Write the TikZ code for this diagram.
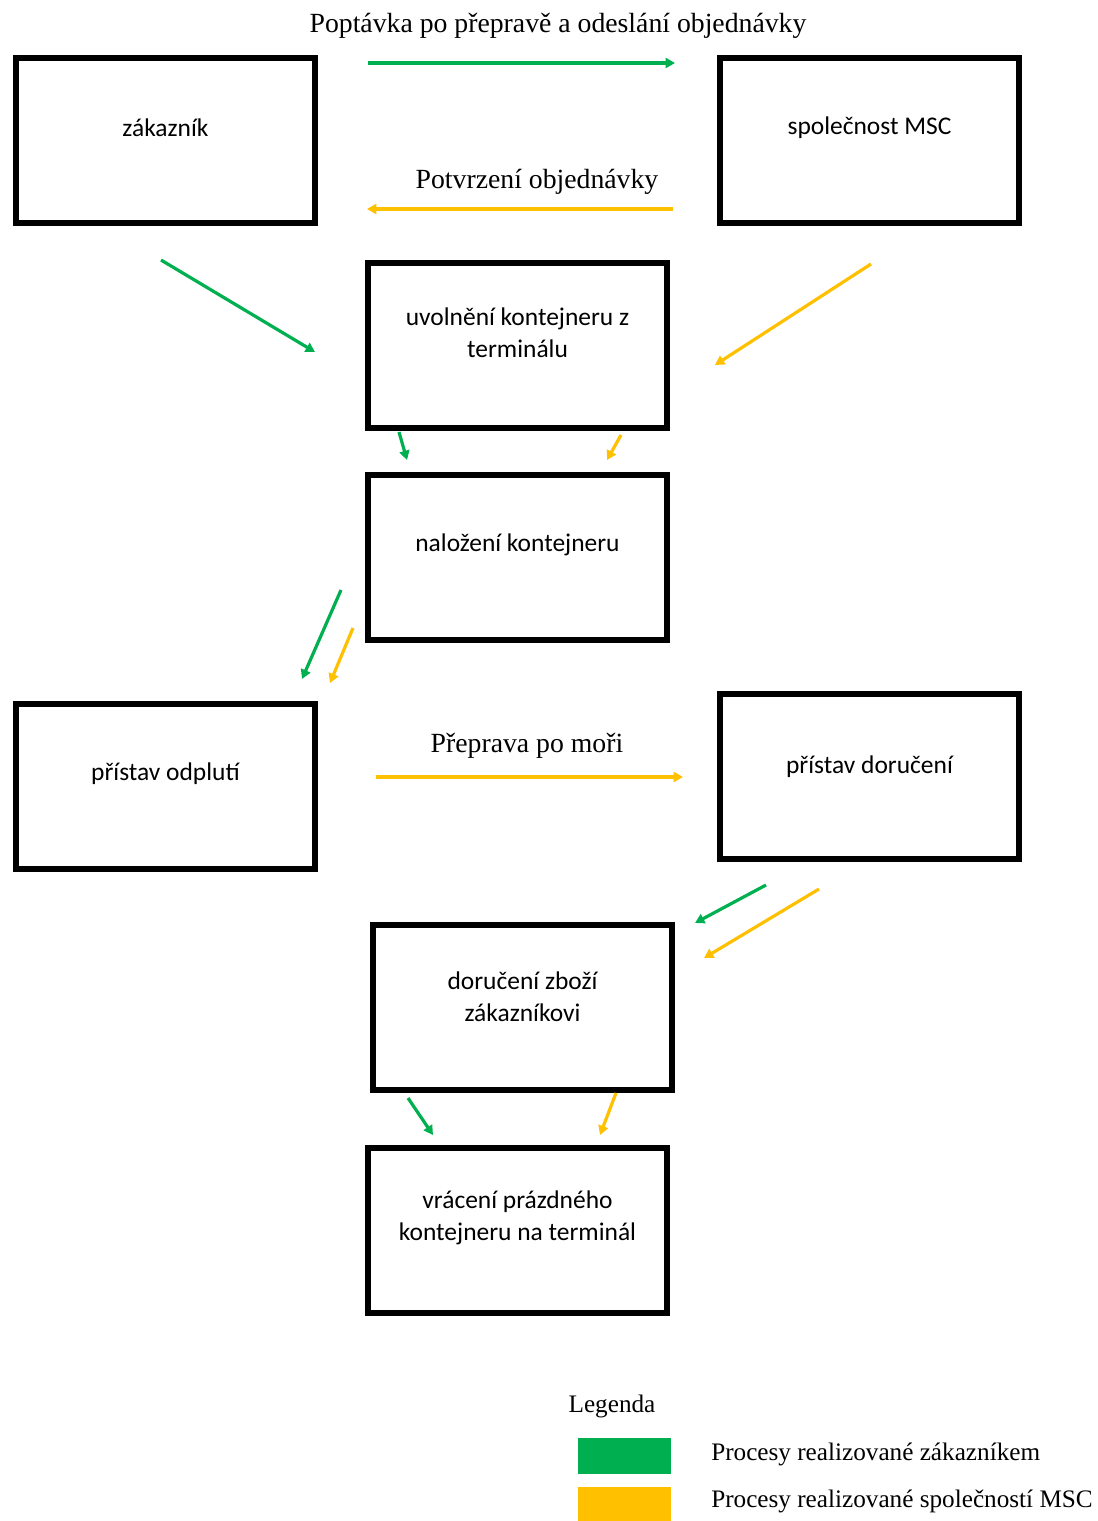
\documentclass[tikz,border=0pt]{standalone}
\usepackage{fontspec}
\setmainfont{Liberation Serif}
\newfontfamily\boxfont{Carlito}
\usetikzlibrary{arrows.meta}
\definecolor{grn}{HTML}{00B050}
\definecolor{ylw}{HTML}{FFC000}
\begin{document}
\begin{tikzpicture}[x=0.75pt,y=-0.75pt,
  box/.style={draw,line width=4.5pt,minimum width=224.25pt,minimum height=123.75pt,inner sep=0pt},
  boxtext/.style={font=\boxfont\fontsize{19.1pt}{24pt}\selectfont,align=center,inner sep=0pt},
  lbl/.style={font=\fontsize{20.8pt}{24pt}\selectfont,anchor=base,inner sep=0pt},
  leglbl/.style={font=\fontsize{18.9pt}{22pt}\selectfont,anchor=base,inner sep=0pt},
  arr/.style={line width=2.4pt,-{Triangle[length=7pt,width=7.5pt]}},
  garr/.style={arr,draw=grn},
  yarr/.style={arr,draw=ylw},
  legbox/.style={minimum width=69.75pt,minimum height=27pt,inner sep=0pt}]
\useasboundingbox (0,0) rectangle (1097,1521);
\fill[white] (0,0) rectangle (1097,1521);

% boxes
\node[box] (zak)   at (165.5,140.5) {};
\node[box] (msc)   at (869.5,140.5) {};
\node[box] (uvol)  at (517.5,345)   {};
\node[box] (nalo)  at (517.5,557)   {};
\node[box] (odpl)  at (165.5,786)   {};
\node[box] (doru)  at (869.5,776.5) {};
\node[box] (zbozi) at (522.5,1007)  {};
\node[box] (vrac)  at (517.5,1230)  {};

% box texts
\node[boxtext] (zak-t)   at ([yshift=9.4pt]zak.center)   {zákazník};
\node[boxtext] (msc-t)   at ([yshift=9.4pt]msc.center)   {společnost MSC};
\node[boxtext] (uvol-t)  at ([yshift=9.4pt]uvol.center)  {uvolnění kontejneru z\\terminálu};
\node[boxtext] (nalo-t)  at ([yshift=9.4pt]nalo.center)  {naložení kontejneru};
\node[boxtext] (odpl-t)  at ([yshift=9.4pt]odpl.center)  {přístav odplutí};
\node[boxtext] (doru-t)  at ([yshift=7pt]doru.center)    {přístav doručení};
\node[boxtext] (zbozi-t) at ([yshift=7.5pt]zbozi.center) {doručení zboží\\zákazníkovi};
\node[boxtext] (vrac-t)  at ([yshift=9.4pt]vrac.center)  {vrácení prázdného\\kontejneru na terminál};

% labels
\node[lbl] (l1) at (558,32)  {Poptávka po přepravě a odeslání objednávky};
\node[lbl] (l2) at (537,188) {Potvrzení objednávky};
\node[lbl] (l3) at (527,752) {Přeprava po moři};

% connector end points
\coordinate (a1s) at (368,63);   \coordinate (a1e) at (675,63);
\coordinate (a2s) at (673,209);  \coordinate (a2e) at (367,209);
\coordinate (a3s) at (161,260);  \coordinate (a3e) at (315,352);
\coordinate (a4s) at (871,264);  \coordinate (a4e) at (715,365);
\coordinate (a5s) at (399,432);  \coordinate (a5e) at (407,460);
\coordinate (a6s) at (621,435);  \coordinate (a6e) at (607,460);
\coordinate (a7s) at (341,590);  \coordinate (a7e) at (302,679);
\coordinate (a8s) at (353,628);  \coordinate (a8e) at (330,683);
\coordinate (a9s) at (376,777);  \coordinate (a9e) at (683,777);
\coordinate (a10s) at (766,885); \coordinate (a10e) at (695,923);
\coordinate (a11s) at (819,889); \coordinate (a11e) at (704,958);
\coordinate (a12s) at (408,1098);\coordinate (a12e) at (433,1135);
\coordinate (a13s) at (616,1093);\coordinate (a13e) at (600,1135);

\draw[garr] (a1s) -- (a1e);
\draw[yarr] (a2s) -- (a2e);
\draw[garr] (a3s) -- (a3e);
\draw[yarr] (a4s) -- (a4e);
\draw[garr] (a5s) -- (a5e);
\draw[yarr] (a6s) -- (a6e);
\draw[garr] (a7s) -- (a7e);
\draw[yarr] (a8s) -- (a8e);
\draw[yarr] (a9s) -- (a9e);
\draw[garr] (a10s) -- (a10e);
\draw[yarr] (a11s) -- (a11e);
\draw[garr] (a12s) -- (a12e);
\draw[yarr] (a13s) -- (a13e);

% legend
\node[leglbl] (leg) at (612,1412) {Legenda};
\node[legbox,fill=grn] (lg) at (624.5,1455.5) {};
\node[legbox,fill=ylw] (ly) at (624.5,1504.5) {};
\node[leglbl,anchor=base west] (lgt) at (711,1460) {Procesy realizované zákazníkem};
\node[leglbl,anchor=base west] (lyt) at (711,1507) {Procesy realizované společností MSC};
\end{tikzpicture}
\end{document}
